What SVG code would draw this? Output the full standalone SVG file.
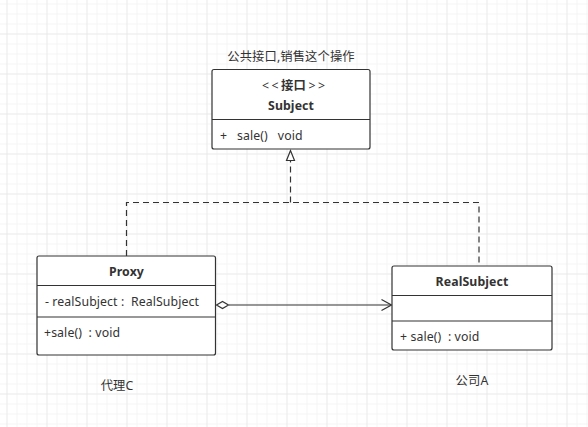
<svg xmlns="http://www.w3.org/2000/svg" width="588" height="427" viewBox="0 0 588 427">
<defs>
<pattern id="minor" x="6.5" y="3.5" width="10" height="10" patternUnits="userSpaceOnUse">
<path d="M0 0H10M0 0V10" fill="none" stroke="#ececec" stroke-width="1"/>
</pattern>
<pattern id="major" x="46.5" y="33.5" width="40" height="40" patternUnits="userSpaceOnUse">
<path d="M0 0H40M0 0V40" fill="none" stroke="#e2e2e2" stroke-width="1"/>
</pattern>
</defs>
<style>
.box{fill:#fff;stroke:#333;stroke-width:1.2}
.div{stroke:#333;stroke-width:1.2}
.t{font-family:"Noto Sans","Noto Sans CJK SC",sans-serif;font-size:12.3px;letter-spacing:0.1px;fill:#333}
.b{font-weight:bold}
.st{letter-spacing:2.5px}
.dash{fill:none;stroke:#333;stroke-width:1.2;stroke-dasharray:6,4}
.line{fill:none;stroke:#333;stroke-width:1.2}
</style>
<rect width="588" height="427" fill="#fff"/>
<rect width="588" height="427" fill="url(#minor)"/>
<rect width="588" height="427" fill="url(#major)"/>

<g id="connectors">
<path class="dash" d="M126.5 256V202.5H479V266"/>
<path class="dash" d="M290.5 202.5V160"/>
<path class="line" d="M290.5 150.5L286.5 160.5H294.5Z" fill="#fff"/>
<path class="line" d="M229 305H391"/>
<path class="line" d="M216.5 305L222.5 301.5L228.5 305L222.5 308.5Z" fill="#fff"/>
<path class="line" d="M381.5 299.5L391.5 305L381.5 310.5"/>
</g>

<g id="subject">
<text class="t" x="291" y="61" text-anchor="middle">公共接口,销售这个操作</text>
<rect class="box" x="212" y="69.5" width="158" height="79.5" rx="2"/>
<line class="div" x1="212" y1="119.5" x2="370" y2="119.5"/>
<text class="t" x="262" y="90"><tspan class="st">&lt;&lt;</tspan><tspan class="b">接口</tspan><tspan class="st" dx="2.5">&gt;&gt;</tspan></text>
<text class="t b" x="291" y="110" text-anchor="middle">Subject</text>
<text class="t" x="220" y="140" xml:space="preserve">+   sale()   void</text>
</g>

<g id="proxy">
<rect class="box" x="37" y="256" width="178.5" height="99" rx="2"/>
<line class="div" x1="37" y1="285.5" x2="215.5" y2="285.5"/>
<line class="div" x1="37" y1="317" x2="215.5" y2="317"/>
<text class="t b" x="126.5" y="276" text-anchor="middle">Proxy</text>
<text class="t" x="45" y="306" xml:space="preserve">- realSubject :  RealSubject</text>
<text class="t" x="44" y="337" xml:space="preserve">+sale()  : void</text>
<text class="t" x="117" y="390" text-anchor="middle">代理C</text>
</g>

<g id="realsubject">
<rect class="box" x="392" y="266" width="160" height="84" rx="2"/>
<line class="div" x1="392" y1="295.5" x2="552" y2="295.5"/>
<line class="div" x1="392" y1="321" x2="552" y2="321"/>
<text class="t b" x="472" y="286" text-anchor="middle">RealSubject</text>
<text class="t" x="400" y="341" xml:space="preserve">+ sale()  : void</text>
<text class="t" x="472" y="385" text-anchor="middle">公司A</text>
</g>
</svg>
